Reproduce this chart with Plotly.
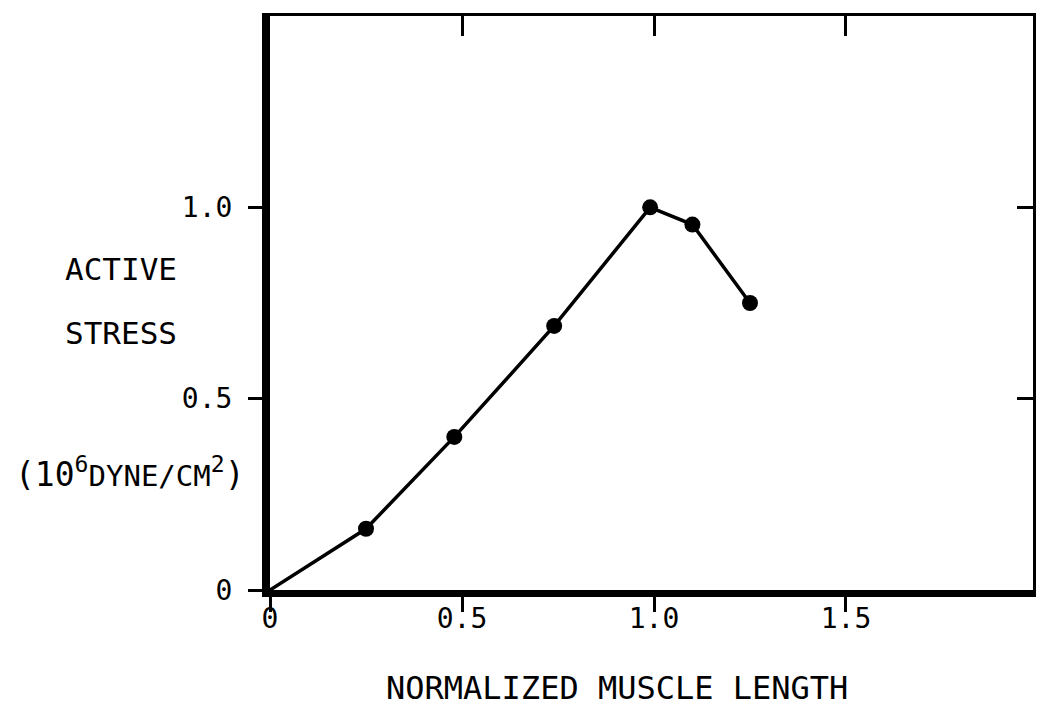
import plotly.graph_objects as go

# data
muscle_length = [0.0, 0.25, 0.48, 0.74, 0.99, 1.10, 1.25]
active_stress = [0.0, 0.16, 0.40, 0.69, 1.00, 0.955, 0.75]
marker_sizes = [0, 16, 16, 16, 16, 16, 16]

x_tickvals = [0, 0.5, 1.0, 1.5]
x_ticktext = ["0", "0.5", "1.0", "1.5"]
y_tickvals = [0, 0.5, 1.0]
y_ticktext = ["0", "0.5", "1.0"]

X_RANGE = [0, 1.987]
Y_RANGE = [0, 1.5]
FONT = "DejaVu Sans Mono"

fig = go.Figure()
fig.add_trace(go.Scatter(
    x=muscle_length, y=active_stress, mode="lines+markers",
    line=dict(color="black", width=3.5),
    marker=dict(color="black", size=marker_sizes, opacity=1,
                line=dict(width=0, color="black")),
    cliponaxis=False, showlegend=False, hoverinfo="skip",
))
# helper trace so the top / right axes (inward ticks) are drawn
fig.add_trace(go.Scatter(
    x=muscle_length, y=active_stress, mode="lines",
    line=dict(width=0, color="rgba(0,0,0,0)"),
    xaxis="x2", yaxis="y2", showlegend=False, hoverinfo="skip",
))

fig.update_layout(
    width=1042, height=707,
    margin=dict(l=270, r=9, t=16, b=117),
    paper_bgcolor="white", plot_bgcolor="white",
    font=dict(family=FONT, color="black"),
    xaxis=dict(
        range=X_RANGE, showgrid=False, zeroline=False,
        showline=True, linewidth=7, linecolor="black",
        ticks="outside", ticklen=15, tickwidth=3, tickcolor="black",
        tickvals=x_tickvals, ticktext=x_ticktext,
        tickfont=dict(family=FONT, size=28, color="black"),
        ticklabelstandoff=-18,
    ),
    yaxis=dict(
        range=Y_RANGE, showgrid=False, zeroline=False,
        showline=True, linewidth=8, linecolor="black",
        ticks="outside", ticklen=14, tickwidth=3, tickcolor="black",
        tickvals=y_tickvals, ticktext=y_ticktext,
        tickfont=dict(family=FONT, size=28, color="black"),
        ticklabelstandoff=10,
    ),
    xaxis2=dict(
        range=X_RANGE, overlaying="x", side="top", anchor="y2",
        showgrid=False, zeroline=False,
        showline=True, linewidth=3, linecolor="black",
        ticks="inside", ticklen=20, tickwidth=3, tickcolor="black",
        tickvals=[0.5, 1.0, 1.5], showticklabels=False,
    ),
    yaxis2=dict(
        range=Y_RANGE, overlaying="y", side="right", anchor="x2",
        showgrid=False, zeroline=False,
        showline=True, linewidth=3, linecolor="black",
        ticks="inside", ticklen=16, tickwidth=3, tickcolor="black",
        tickvals=[0.5, 1.0], showticklabels=False,
    ),
    annotations=[
        dict(text="ACTIVE", xref="paper", yref="paper", x=-0.195, y=0.559,
             xanchor="center", yanchor="middle", showarrow=False,
             font=dict(family=FONT, size=31, color="black")),
        dict(text="STRESS", xref="paper", yref="paper", x=-0.195, y=0.448,
             xanchor="center", yanchor="middle", showarrow=False,
             font=dict(family=FONT, size=31, color="black")),
        dict(text="(10<sup>6</sup><span style='font-size:29px'>DYNE/CM</span><sup>2</sup>)",
             xref="paper", yref="paper", x=-0.183, y=0.205,
             xanchor="center", yanchor="middle", showarrow=False,
             font=dict(family=FONT, size=33, color="black")),
        dict(text="NORMALIZED MUSCLE LENGTH", xref="paper", yref="paper",
             x=0.455, y=-0.171, xanchor="center", yanchor="middle",
             showarrow=False, font=dict(family=FONT, size=32, color="black")),
    ],
)

fig.write_html("out.html")
